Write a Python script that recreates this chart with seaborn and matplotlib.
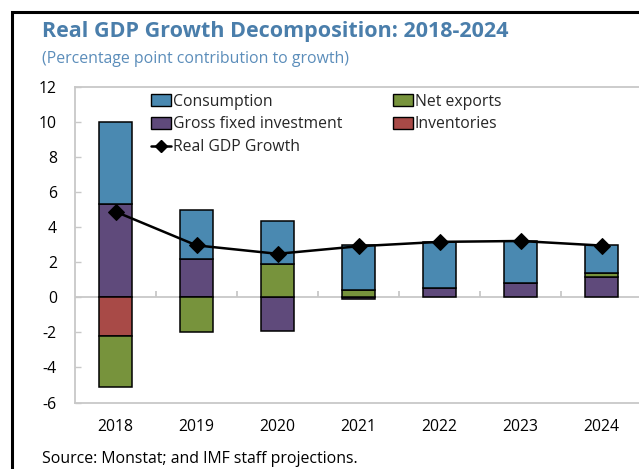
import numpy as np
import matplotlib
matplotlib.use("Agg")
import matplotlib.pyplot as plt
from matplotlib.patches import Rectangle, Patch
from matplotlib.lines import Line2D
import seaborn as sns

# Contributions to real GDP growth, percentage points
years = ["2018", "2019", "2020", "2021", "2022", "2023", "2024"]
gross_fixed_investment = [5.3, 2.2, -1.9, -0.1, 0.53, 0.78, 1.15]
inventories = [-2.2, 0.0, 0.0, 0.0, 0.0, 0.0, 0.0]
net_exports = [-2.9, -2.0, 1.9, 0.42, 0.0, 0.0, 0.2]
consumption = [4.7, 2.75, 2.46, 2.53, 2.63, 2.4, 1.6]
real_gdp_growth = [4.87, 2.95, 2.47, 2.9, 3.15, 3.2, 2.94]

y_ticks = [-6, -4, -2, 0, 2, 4, 6, 8, 10, 12]

sns.set_theme(style="white")
plt.rcParams["font.family"] = ["Open Sans", "DejaVu Sans"]

W, H = 639, 469
fig = plt.figure(figsize=(W / 100, H / 100), dpi=100)
ax = fig.add_axes([75 / W, 1 - 402.5 / H, 567 / W, 316 / H])

x = np.arange(len(years))
colors = {
    "Consumption": "#4A89B1",
    "Gross fixed investment": "#5F4A7B",
    "Net exports": "#77933C",
    "Inventories": "#A84A47",
}
# stacking order from the zero line outward (Excel-style, signs stacked apart)
series = [
    ("Gross fixed investment", gross_fixed_investment),
    ("Inventories", inventories),
    ("Net exports", net_exports),
    ("Consumption", consumption),
]
pos_base = np.zeros(len(years))
neg_base = np.zeros(len(years))
bar_w = 0.4
for name, vals in series:
    v = np.asarray(vals, dtype=float)
    bottoms = np.where(v >= 0, pos_base, neg_base)
    mask = v != 0
    ax.bar(x[mask], v[mask], bottom=bottoms[mask], width=bar_w,
           color=colors[name], edgecolor="black", linewidth=1.1, zorder=3)
    pos_base += np.where(v > 0, v, 0)
    neg_base += np.where(v < 0, v, 0)

sns.lineplot(x=x, y=real_gdp_growth, ax=ax, color="black", linewidth=1.8,
             marker="D", markersize=8, markeredgecolor="black", zorder=5,
             legend=False)

# zero line with category separator ticks
grey = "#C8C8C8"
ax.axhline(0, color=grey, linewidth=1.3, zorder=1)
ax.vlines(x[:-1] + 0.5, 0, 0.35, color=grey, linewidth=1.3, zorder=1)

ax.set_xlim(-0.5, len(years) - 0.5)
ax.set_ylim(-6, 12)
ax.set_yticks(y_ticks)
ax.set_yticklabels([str(t) for t in y_ticks])
ax.set_xticks(x)
ax.set_xticklabels(years)
ax.tick_params(axis="x", length=0, pad=12, labelsize=11.3, colors="black")
ax.tick_params(axis="y", direction="in", length=4.5, width=1, color=grey,
               pad=13, labelsize=11.3, labelcolor="black", left=True)
for s in ax.spines.values():
    s.set_color(grey)
    s.set_linewidth(1.3)
ax.set_xlabel("")
ax.set_ylabel("")

handles = [
    Patch(facecolor=colors["Consumption"], edgecolor="black", linewidth=1),
    Patch(facecolor=colors["Gross fixed investment"], edgecolor="black", linewidth=1),
    Line2D([], [], color="black", linewidth=1.8, marker="D", markersize=6),
    Patch(facecolor=colors["Net exports"], edgecolor="black", linewidth=1),
    Patch(facecolor=colors["Inventories"], edgecolor="black", linewidth=1),
]
labels = ["Consumption", "Gross fixed investment", "Real GDP Growth",
          "Net exports", "Inventories"]
fig.legend(handles, labels, ncol=2, loc="upper left",
           bbox_to_anchor=(151 / W, 1 - 93.5 / H), frameon=False,
           fontsize=11.3, handlelength=1.3, handleheight=0.8,
           handletextpad=0.1, columnspacing=3.2, labelspacing=0.44,
           borderpad=0, borderaxespad=0)

fig.text(42 / W, 1 - 32 / H, "Real GDP Growth Decomposition: 2018-2024",
         fontsize=15.5, fontweight="bold", color="#4A7EAB", va="center")
fig.text(42 / W, 1 - 59 / H, "(Percentage point contribution to growth)",
         fontsize=11.4, color="#5B8DBA", va="center")
fig.text(42 / W, 1 - 459 / H, "Source: Monstat; and IMF staff projections.",
         fontsize=11.4, color="black", va="center")

# outer panel frame
fig.patches.append(Rectangle((12 / W, -0.2), 1.2, 1 - 12 / H + 0.2,
                             transform=fig.transFigure, fill=False,
                             edgecolor="black", linewidth=2.2, clip_on=False))

fig.savefig("out.png", dpi=100)
